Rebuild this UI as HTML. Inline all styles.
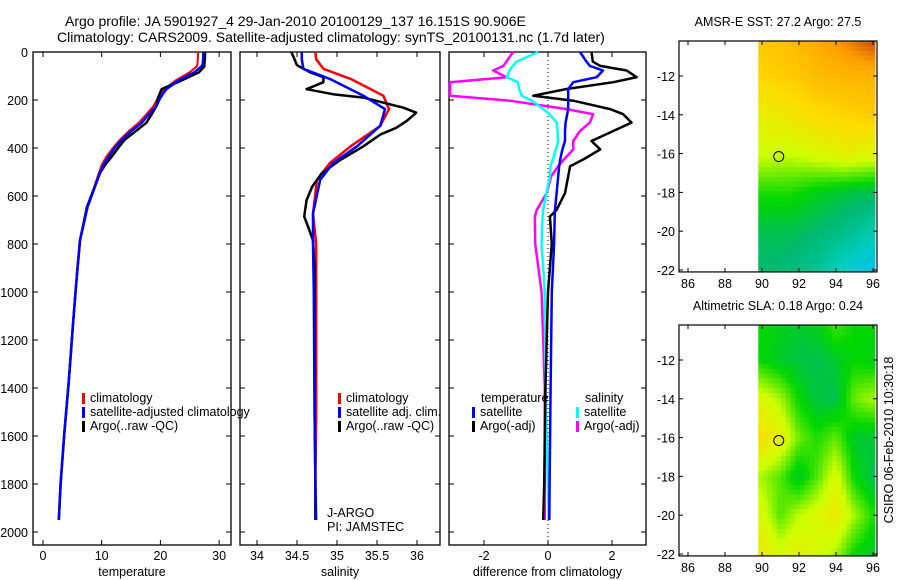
<!DOCTYPE html>
<html><head><meta charset="utf-8"><style>
html,body{margin:0;padding:0;background:#fff;}
svg{display:block;font-family:"Liberation Sans",sans-serif;font-size:12.5px;}
.ttl{font-size:14px;}
</style></head><body>
<svg id="fig" width="900" height="580" viewBox="0 0 900 580" xmlns="http://www.w3.org/2000/svg">
<text class="ttl" x="65" y="26">Argo profile: JA 5901927_4 29-Jan-2010 20100129_137 16.151S 90.906E</text>
<text class="ttl" x="57" y="42">Climatology: CARS2009. Satellite-adjusted climatology: synTS_20100131.nc (1.7d later)</text>
<g id="p1"></g>
<g id="p2"></g>
<g id="p3"></g>
<g id="m1"></g>
<g id="m2"></g>
<text transform="translate(893,440) rotate(-90)" text-anchor="middle">CSIRO 06-Feb-2010 10:30:18</text>
</svg>
<script>
const depthTicks=[0,200,400,600,800,1000,1200,1400,1600,1800,2000];
// temperature
const tDepth=[0,20,50,60,84,120,155,190,226,260,295,330,366,400,436,470,505,645,785,925,1107,1371,1600,1800,1950];
const tArgo=[27.6,27.6,27.5,27.5,26.6,23.5,20.2,19.6,19.3,18.5,17.6,15.8,13.9,12.8,11.7,10.6,9.7,7.5,6.3,5.8,5.2,4.4,3.6,3.0,2.7];
const tClim=[26.4,26.4,26.3,26.2,25.0,22.5,20.7,19.6,18.8,17.6,16.3,14.6,13.1,11.9,10.8,10.0,9.5,7.6,6.3,5.8,5.2,4.4,3.6,3.0,2.7];
const tSat=[27.3,27.3,27.2,27.0,25.8,23.0,21.0,20.0,19.3,18.0,16.8,15.0,13.4,12.2,11.2,10.3,9.7,7.6,6.3,5.8,5.2,4.4,3.6,3.0,2.7];
// salinity
const sDepthArgo=[0,55,84,105,126,155,176,190,232,253,288,316,344,393,450,505,561,617,686,729,785,900,1200,1500,1800,1950];
const sArgo=[34.43,34.50,34.66,34.83,34.83,34.62,34.95,35.33,35.83,35.99,35.87,35.74,35.54,35.33,35.04,34.81,34.69,34.62,34.59,34.64,34.70,34.72,34.72,34.72,34.73,34.73];
const sDepthClim=[0,30,70,112,182,238,308,393,463,533,673,800,1000,1500,1800,1950];
const sClim=[34.73,34.74,34.83,35.17,35.58,35.65,35.54,35.17,34.91,34.75,34.70,34.74,34.74,34.74,34.73,34.73];
const sSat=[34.56,34.56,34.58,34.91,35.33,35.60,35.54,35.25,34.95,34.79,34.70,34.70,34.71,34.72,34.73,34.74];
// differences
const dDepth=[0,40,58,77,105,126,154,182,203,238,259,294,329,371,406,448,476,518,588,658,686,798,1000,1400,1800,1950];
const dArgoT=[1.36,1.4,1.63,2.46,2.77,2.04,0.58,-0.46,0.79,1.94,2.35,2.61,2.04,1.36,1.63,1.10,0.69,0.63,0.53,0.27,0.06,0.12,0.0,-0.08,-0.12,-0.15];
const dSatT=[1.0,1.2,1.31,1.72,1.52,0.79,0.63,0.63,0.63,0.63,0.6,0.55,0.53,0.53,0.45,0.38,0.35,0.32,0.27,0.22,0.21,0.19,0.12,0.08,0.05,0.04];
const dArgoS=[-1.09,-1.3,-1.39,-1.71,-1.29,-3.06,-3.06,-3.06,-1.19,0.58,1.41,1.31,1.0,0.79,0.79,0.5,0.32,0.1,-0.04,-0.35,-0.41,-0.4,-0.2,-0.1,-0.1,-0.1];
const dSatS=[-0.31,-0.98,-1.1,-1.2,-1.29,-0.94,-0.9,-0.82,-0.5,-0.15,0.05,0.27,0.3,0.32,0.25,0.15,0.08,0.06,-0.05,-0.15,-0.17,-0.2,-0.1,-0.08,0.0,0.02];
// maps
const sstLon=[90,91.5,93,94.5,96];
const sstLat=[-10.2,-12,-14,-16,-18,-20,-22];
const sstVal=[[0.75,0.78,0.82,0.88,0.95],[0.72,0.74,0.78,0.8,0.8],[0.62,0.66,0.7,0.72,0.74],[0.56,0.55,0.58,0.62,0.6],[0.42,0.42,0.38,0.35,0.33],[0.33,0.33,0.3,0.25,0.18],[0.3,0.28,0.22,0.12,0.05]];
const slaLon=[90,91,92,93,94,95,96];
const slaLat=[-10.2,-12,-14,-16,-18,-20,-22];
const slaVal=[[0.4,0.38,0.36,0.38,0.45,0.4,0.4],[0.4,0.36,0.34,0.33,0.36,0.4,0.38],[0.58,0.52,0.4,0.34,0.33,0.48,0.52],[0.68,0.62,0.48,0.42,0.47,0.36,0.35],[0.52,0.46,0.36,0.46,0.58,0.4,0.33],[0.58,0.46,0.54,0.58,0.64,0.52,0.42],[0.64,0.58,0.62,0.57,0.52,0.4,0.36]];
const lonTicks=[86,88,90,92,94,96];
const latTicks=[-12,-14,-16,-18,-20,-22];

const NS="http://www.w3.org/2000/svg";
function mk(parent,tag,attrs,text){const e=document.createElementNS(NS,tag);for(const k in attrs)e.setAttribute(k,attrs[k]);if(text!==undefined)e.textContent=text;parent.appendChild(e);return e;}
const yD=d=>52+d*0.24;
function panel(g,x0,x1,xs,ticks,labels,xlabel,showDepth){
  const r=mk(g,'rect',{x:x0,y:52,width:x1-x0,height:493,fill:'none',stroke:'#000','stroke-width':1.3});
  
  
  depthTicks.forEach(d=>{const y=yD(d);mk(g,'line',{x1:x0,x2:x0+5,y1:y,y2:y,stroke:'#000'});mk(g,'line',{x1:x1-5,x2:x1,y1:y,y2:y,stroke:'#000'});
    if(showDepth){const t=mk(g,'text',{x:28,y:y+5,'text-anchor':'end'},String(d));}});
  ticks.forEach((v,i)=>{const x=xs(v);mk(g,'line',{x1:x,x2:x,y1:545,y2:540,stroke:'#000'});mk(g,'line',{x1:x,x2:x,y1:52,y2:57,stroke:'#000'});
    const t=mk(g,'text',{x:x,y:560,'text-anchor':'middle'},labels[i]);});
  const t=mk(g,'text',{x:(x0+x1)/2,y:576,'text-anchor':'middle'},xlabel);
  
  
}
function line(g,xs,vals,depths,color,w,name){
  const pts=vals.map((v,i)=>xs(v).toFixed(1)+','+yD(depths[i]).toFixed(1)).join(' ');
  const p=mk(g,'polyline',{points:pts,fill:'none',stroke:color,'stroke-width':w,'stroke-linejoin':'round'});
  
  
}
function legend(g,x,y,color,label){
  mk(g,'rect',{x:x,y:y-9,width:3,height:11,fill:color});
  const t=mk(g,'text',{x:x+8,y:y},label);
  
  
}
// panel 1
const g1=document.getElementById('p1');
const xT=v=>43+v*5.87;
panel(g1,33,231,xT,[0,10,20,30],['0','10','20','30'],'temperature',true);
line(g1,xT,tClim,tDepth,'#f00',2,'climatology-temp-line');
line(g1,xT,tArgo,tDepth,'#000',2.5,'argo-temp-line');
line(g1,xT,tSat,tDepth,'#00f',2.5,'satellite-temp-line');
legend(g1,82,402,'#f00','climatology');
legend(g1,82,416,'#00f','satellite-adjusted climatology');
legend(g1,82,430,'#000','Argo(..raw -QC)');
// panel 2
const g2=document.getElementById('p2');
const xS=v=>257+(v-34)*80;
panel(g2,240,440,xS,[34,34.5,35,35.5,36],['34','34.5','35','35.5','36'],'salinity',false);
line(g2,xS,sClim,sDepthClim,'#f00',2.5,'climatology-salinity-line');
line(g2,xS,sArgo,sDepthArgo,'#000',2.5,'argo-salinity-line');
line(g2,xS,sSat,sDepthClim,'#00f',2.5,'satellite-salinity-line');
legend(g2,338,402,'#f00','climatology');
legend(g2,338,416,'#00f','satellite adj. clim.');
legend(g2,338,430,'#000','Argo(..raw -QC)');
mk(g2,'text',{x:327,y:517},'J-ARGO');
mk(g2,'text',{x:327,y:531},'PI: JAMSTEC');
// panel 3
const g3=document.getElementById('p3');
const xDf=v=>Math.max(450,Math.min(645,548+v*32));
panel(g3,449,646,xDf,[-2,0,2],['-2','0','2'],'difference from climatology',false);
mk(g3,'line',{x1:548,x2:548,y1:52,y2:545,stroke:'#000','stroke-dasharray':'1,3'});
line(g3,xDf,dArgoS,dDepth,'#f0f',2.5,'argo-salinity-diff-line');
line(g3,xDf,dSatS,dDepth,'#0ff',2.5,'satellite-salinity-diff-line');
line(g3,xDf,dArgoT,dDepth,'#000',2.5,'argo-temp-diff-line');
line(g3,xDf,dSatT,dDepth,'#00f',2.5,'satellite-temp-diff-line');
mk(g3,'text',{x:481,y:402},'temperature');
mk(g3,'text',{x:585,y:402},'salinity');
legend(g3,472,416,'#00f','satellite');
legend(g3,472,430,'#000','Argo(-adj)');
legend(g3,576,416,'#0ff','satellite');
legend(g3,576,430,'#f0f','Argo(-adj)');
// maps
const cstops=[[0,[0,190,255]],[0.15,[0,205,190]],[0.3,[0,185,110]],[0.4,[0,215,0]],[0.55,[205,255,0]],[0.7,[255,220,0]],[0.85,[255,160,0]],[1,[175,40,0]]];
function cmap(v){v=Math.max(0,Math.min(1,v));for(let i=1;i<cstops.length;i++){if(v<=cstops[i][0]){const a=cstops[i-1],b=cstops[i];const t=(v-a[0])/(b[0]-a[0]);return 'rgb('+a[1].map((c,k)=>Math.round(c+(b[1][k]-c)*t)).join(',')+')';}}return 'rgb(175,40,0)';}
function interp(arr,v){for(let i=0;i<arr.length-1;i++){const a=arr[i],b=arr[i+1];if((v-a)*(v-b)<=0)return i+(v-a)/(b-a);}return v<arr[0]===arr[0]<arr[1]?0:arr.length-1;}
function sample(lons,lats,vals,lon,lat){const fi=interp(lons,lon),fj=interp(lats,lat);const i0=Math.min(Math.floor(fi),lons.length-2),j0=Math.min(Math.floor(fj),lats.length-2);const u=fi-i0,w=fj-j0;
  return vals[j0][i0]*(1-u)*(1-w)+vals[j0][i0+1]*u*(1-w)+vals[j0+1][i0]*(1-u)*w+vals[j0+1][i0+1]*u*w;}
function map(g,top,title,lons,lats,vals){
  const xL=v=>688+(v-86)*18.5, yL=v=>top+35+(-12-v)*19.4;
  const ttl=mk(g,'text',{x:778,y:top-15,'text-anchor':'middle'},title);
  
  
  const step=0.25;
  for(let lon=89.8;lon<96.1;lon+=step){for(let lat=-10.2;lat>-22.1;lat-=step){
    const v=sample(lons,lats,vals,lon+step/2,lat-step/2);
    const yb=Math.min(yL(lat-step),yL(-22.05));
    mk(g,'rect',{x:xL(lon).toFixed(1),y:yL(lat).toFixed(1),width:(Math.min(xL(lon+step),xL(96.1))-xL(lon)+0.6).toFixed(1),height:(yb-yL(lat)+0.6).toFixed(1),fill:cmap(v)});}}
  const fr=mk(g,'rect',{x:679,y:top,width:198,height:yL(-22.1)-top,fill:'none',stroke:'#000','stroke-width':1.2});
  
  
  const bot=yL(-22.1);
  lonTicks.forEach(v=>{const x=xL(v);mk(g,'line',{x1:x,x2:x,y1:bot,y2:bot-4,stroke:'#000'});mk(g,'line',{x1:x,x2:x,y1:top,y2:top+4,stroke:'#000'});
    const t=mk(g,'text',{x:x,y:bot+16,'text-anchor':'middle'},String(v));});
  latTicks.forEach(v=>{const y=yL(v);mk(g,'line',{x1:679,x2:683,y1:y,y2:y,stroke:'#000'});mk(g,'line',{x1:873,x2:877,y1:y,y2:y,stroke:'#000'});
    const t=mk(g,'text',{x:675,y:y+5,'text-anchor':'end'},String(v));});
  const c=mk(g,'circle',{cx:xL(90.906),cy:yL(-16.151),r:5,fill:'none',stroke:'#000','stroke-width':1});
  
  
}
map(document.getElementById('m1'),41,'AMSR-E SST: 27.2 Argo: 27.5',sstLon,sstLat,sstVal);
map(document.getElementById('m2'),325,'Altimetric SLA: 0.18 Argo: 0.24',slaLon,slaLat,slaVal);
</script>
</body></html>
